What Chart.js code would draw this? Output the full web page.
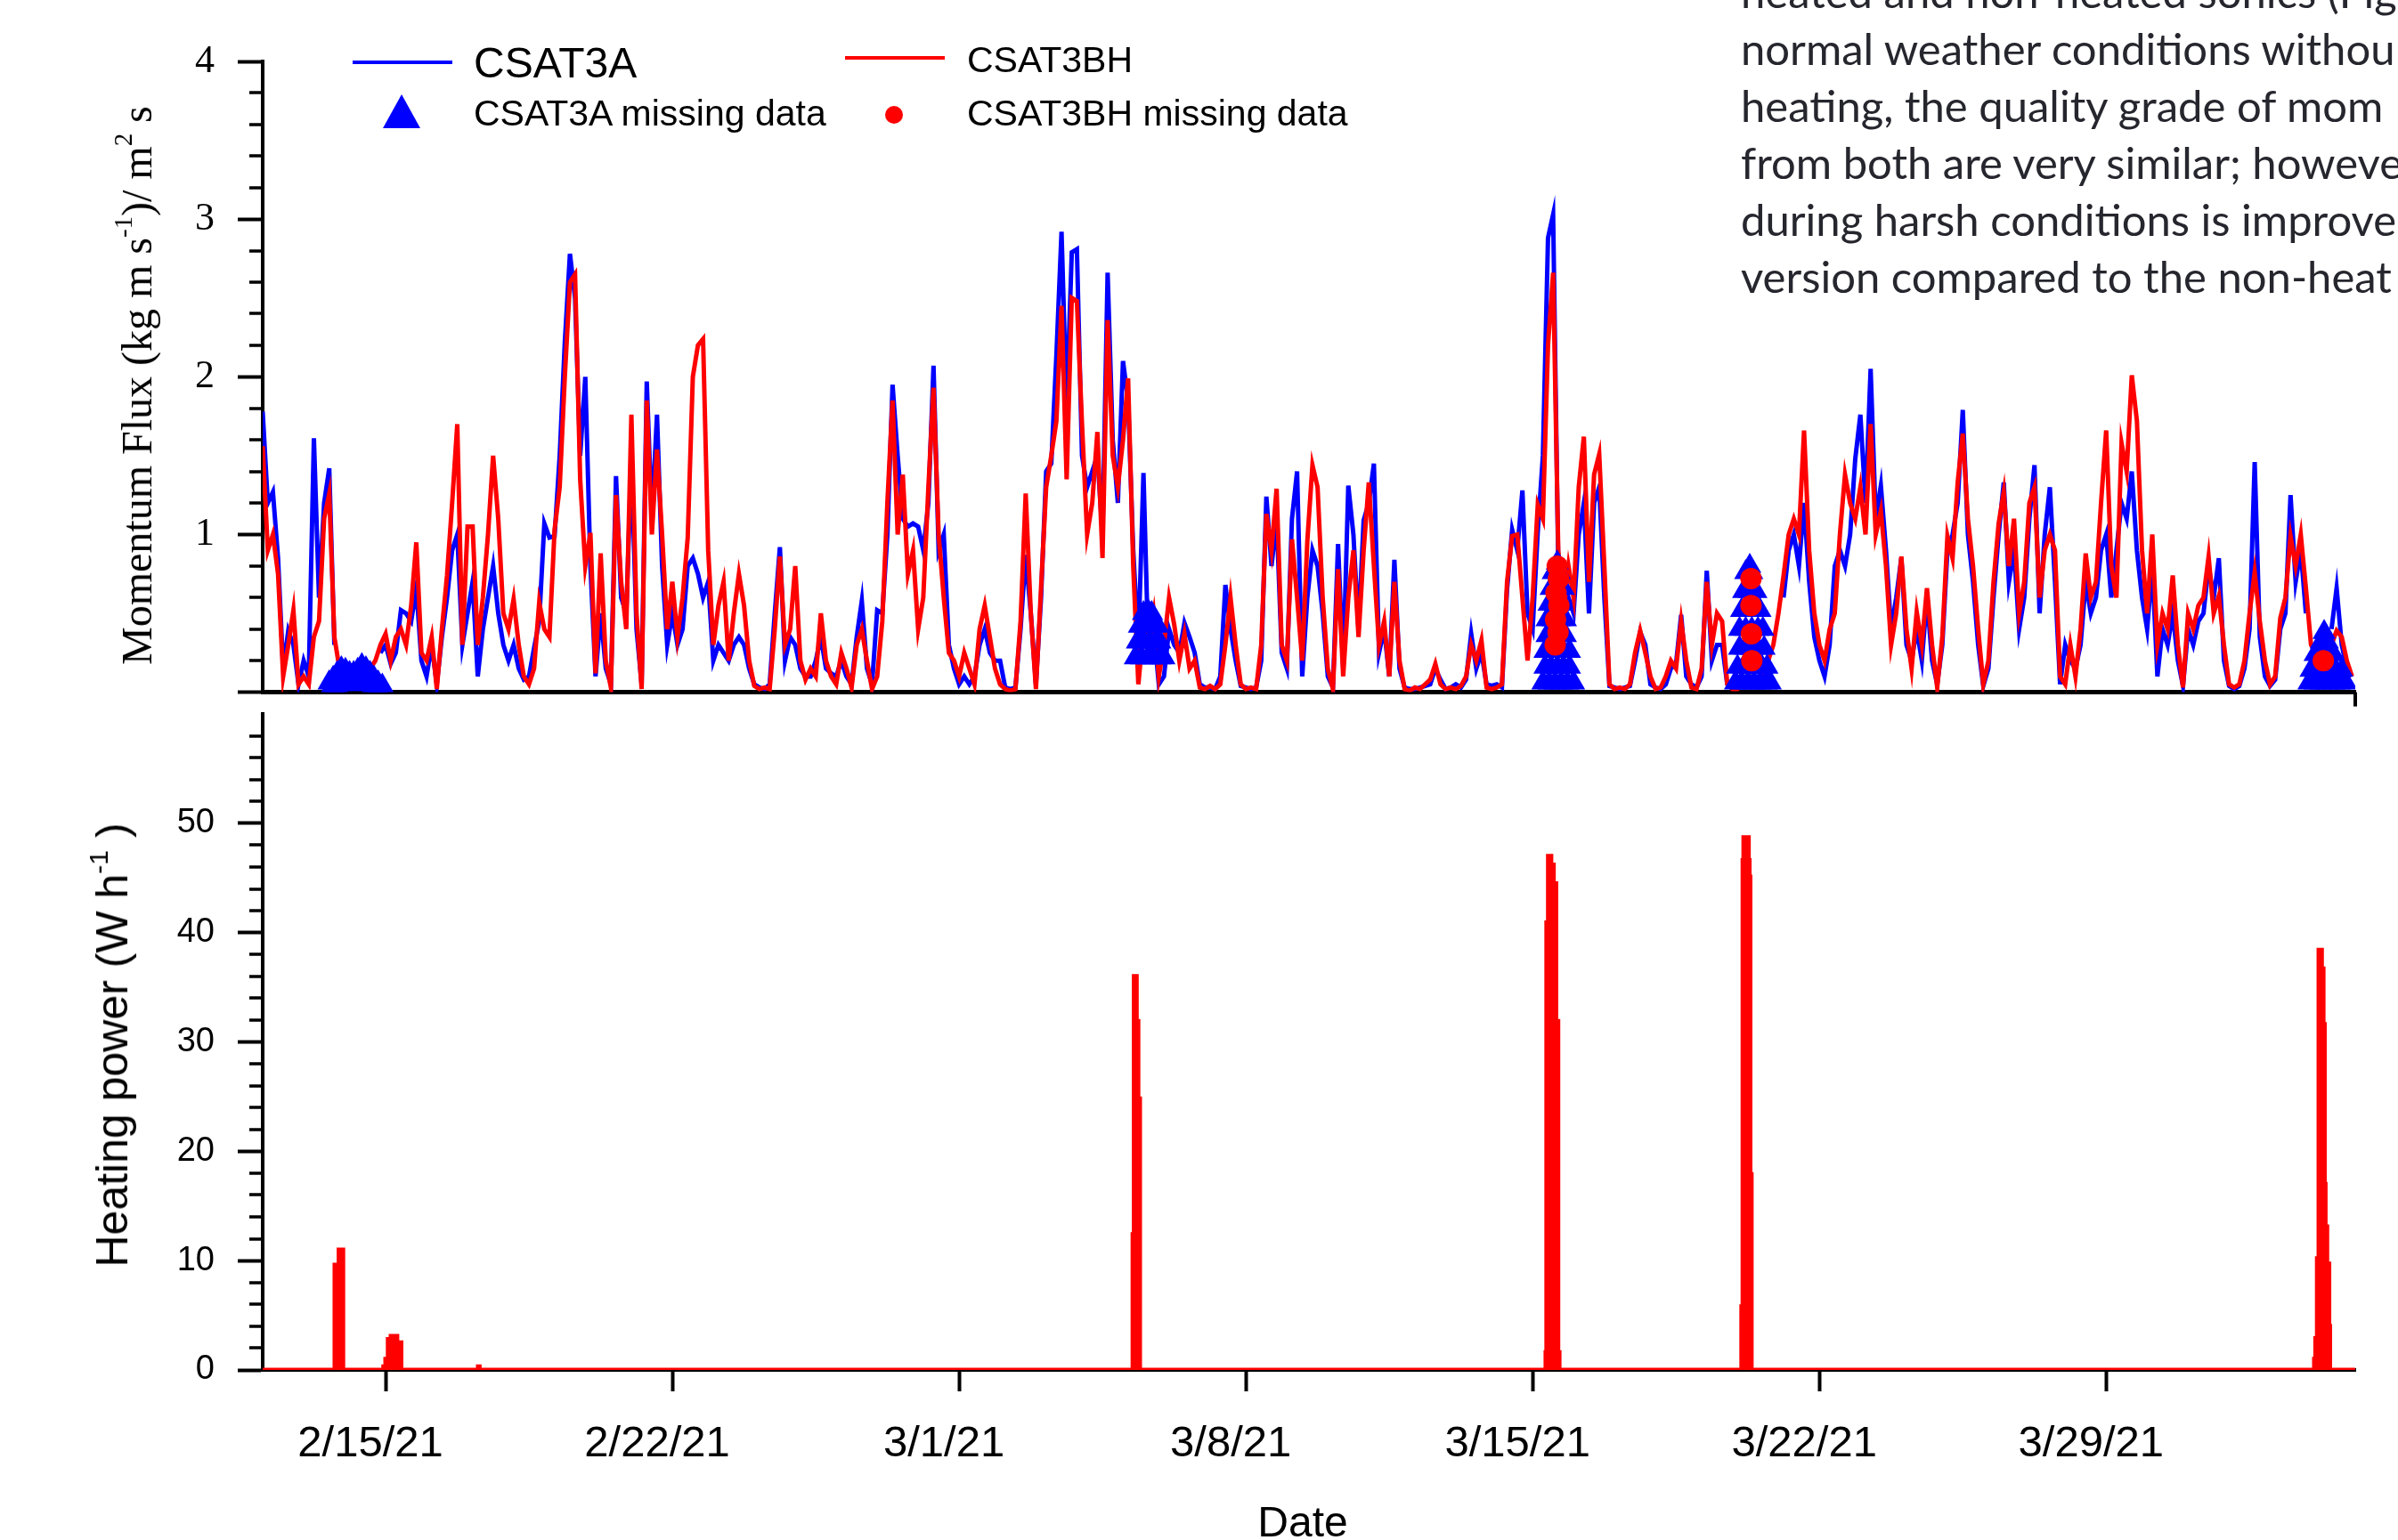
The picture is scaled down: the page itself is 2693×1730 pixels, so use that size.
<!DOCTYPE html>
<html>
<head>
<meta charset="utf-8">
<title>Momentum flux and heating power</title>
<script src="https://cdn.jsdelivr.net/npm/chart.js"></script>
<style>
  html, body { margin: 0; padding: 0; background: #fff; }
  body { width: 2693px; height: 1730px; position: relative; overflow: hidden; }
  canvas { position: absolute; left: 0; }
  #fluxChart { top: 0; }
  #heatChart { top: 740px; }
  .txt { position: absolute; white-space: nowrap; line-height: 1; color: #000; }
  .sans { font-family: 'Liberation Sans', Arial, sans-serif; }
  .serif { font-family: 'Liberation Serif', 'Times New Roman', serif; }
  .rot { transform: translate(-50%, -50%) rotate(-90deg); }
  .sup { font-size: 0.6em; position: relative; top: -0.75em; }
  .mark { position: absolute; }
  #paper { position: absolute; left: 1955px; top: -42px; font-family: Lato, 'Open Sans', sans-serif;
           font-size: 49px; line-height: 64px; color: #26262e; white-space: nowrap; }
</style>
</head>
<body>
    <!-- top panel: momentum flux -->
    <canvas id="fluxChart" width="2693" height="830"></canvas>
    <!-- bottom panel: heating power -->
    <canvas id="heatChart" width="2693" height="990"></canvas>

    <!-- axis titles -->
    <div class="txt serif rot" style="left:154px; top:433px; font-size:48px;">Momentum Flux (kg m s<span class="sup">-1</span>)/ m<span class="sup">2</span> s</div>
    <div class="txt sans rot" style="left:126px; top:1174px; font-size:50px;">Heating power (W h<span class="sup">-1</span> )</div>
    <div class="txt sans" style="left:1463px; top:1686px; font-size:48px; transform:translateX(-50%);">Date</div>

    <!-- legend -->
    <div class="mark" style="left:396px; top:68px; width:112px; height:4px; background:#0000ff;"></div>
    <div class="txt sans" style="left:532px; top:47px; font-size:48px;">CSAT3A</div>
    <div class="mark" style="left:949px; top:63px; width:112px; height:4px; background:#ff0000;"></div>
    <div class="txt sans" style="left:1086px; top:47px; font-size:41px;">CSAT3BH</div>
    <div class="mark" style="left:430px; top:106px; width:0; height:0; border-left:21px solid transparent; border-right:21px solid transparent; border-bottom:38px solid #0000ff;"></div>
    <div class="txt sans" style="left:532px; top:107px; font-size:41px;">CSAT3A missing data</div>
    <div class="mark" style="left:994px; top:119px; width:20px; height:20px; border-radius:50%; background:#ff0000;"></div>
    <div class="txt sans" style="left:1086px; top:107px; font-size:41px;">CSAT3BH missing data</div>

    <!-- paper text next to the figure -->
    <div id="paper">
        heated and non-heated sonics (Fig<br>
        normal weather conditions withou<br>
        heating, the quality grade of mom<br>
        from both are very similar; howeve<br>
        during harsh conditions is improve<br>
        version compared to the non-heat
    </div>

    <script>
        // time axis in days from 2/12/21 00:00
        const axisStartDay = 0;
        const axisEndDay = 51.08;
        const dateTickDay = [3, 10, 17, 24, 31, 38, 45];
        const dateTickLabel = ['2/15/21', '2/22/21', '3/1/21', '3/8/21', '3/15/21', '3/22/21', '3/29/21'];

        // flux series, one value every 3 hours from axisStartDay
        const fluxStepDays = 0.125;
        const csat3bhFlux = [
            1.56,0.9,1.0,0.75,0.1,0.3,0.52,0.05,0.1,0.05,
            0.35,0.45,1.1,1.26,0.35,0.15,0.1,0.1,0.12,0.08,
            0.1,0.15,0.2,0.3,0.37,0.2,0.35,0.4,0.3,0.55,
            0.95,0.25,0.2,0.35,0.02,0.4,0.74,1.2,1.7,0.3,
            1.05,1.05,0.3,0.6,1.0,1.5,1.1,0.5,0.4,0.59,
            0.3,0.1,0.05,0.15,0.57,0.4,0.35,1.03,1.3,2.0,
            2.6,2.65,1.35,0.8,1.01,0.12,0.88,0.2,0.03,1.25,
            0.7,0.4,1.76,0.5,0.02,1.85,1.0,1.54,1.0,0.4,
            0.7,0.35,0.6,0.98,2.0,2.2,2.24,0.9,0.3,0.55,
            0.7,0.2,0.5,0.75,0.55,0.2,0.04,0.02,0.03,0.02,
            0.4,0.86,0.3,0.4,0.8,0.2,0.08,0.15,0.1,0.5,
            0.2,0.1,0.05,0.25,0.15,0.03,0.3,0.4,0.2,0.02,
            0.1,0.45,1.21,1.85,1.0,1.38,0.75,0.9,0.4,0.6,
            1.3,1.93,1.0,0.6,0.25,0.2,0.1,0.25,0.15,0.05,
            0.4,0.55,0.35,0.15,0.05,0.02,0.01,0.02,0.45,1.26,
            0.5,0.02,0.66,1.3,1.5,1.72,2.45,1.35,2.5,2.48,
            1.7,1.0,1.2,1.65,0.85,2.36,1.5,1.3,1.6,1.99,
            0.8,0.05,0.4,0.3,0.5,0.1,0.3,0.6,0.43,0.2,
            0.37,0.15,0.2,0.03,0.02,0.04,0.02,0.05,0.3,0.6,
            0.3,0.05,0.02,0.03,0.02,0.3,1.13,0.9,1.29,0.3,
            0.2,0.97,0.6,0.2,0.96,1.44,1.3,0.6,0.15,0.02,
            0.78,0.1,0.6,0.9,0.35,0.9,1.33,0.8,0.3,0.45,
            0.1,0.7,0.2,0.02,0.01,0.03,0.02,0.05,0.08,0.18,
            0.05,0.02,0.03,0.02,0.04,0.1,0.3,0.2,0.33,0.03,
            0.02,0.03,0.05,0.7,0.99,1.0,0.6,0.2,0.6,1.19,
            1.1,2.2,2.66,0.9,0.5,0.8,0.6,1.3,1.62,0.7,
            1.38,1.51,0.8,0.05,0.02,0.03,0.02,0.05,0.25,0.39,
            0.25,0.1,0.02,0.03,0.1,0.2,0.15,0.45,0.2,0.03,
            0.02,0.15,0.7,0.3,0.5,0.45,0.05,0.02,0.02,0.05,
            0.1,0.1,0.05,0.1,0.2,0.3,0.5,0.74,1.0,1.1,
            1.0,1.66,0.9,0.5,0.3,0.2,0.4,0.5,1.0,1.38,
            1.2,1.1,1.3,1.0,1.7,1.0,1.15,0.8,0.3,0.5,
            0.86,0.4,0.15,0.51,0.3,0.66,0.3,0.03,0.35,0.99,
            0.85,1.33,1.64,1.1,0.8,0.4,0.05,0.2,0.7,1.07,
            1.27,0.8,1.1,0.5,0.7,1.2,1.3,0.6,0.9,1.0,
            0.9,0.1,0.05,0.3,0.1,0.4,0.88,0.6,0.7,1.2,
            1.66,0.8,0.6,1.58,1.4,2.01,1.72,0.9,0.5,1.0,
            0.3,0.5,0.4,0.74,0.3,0.03,0.5,0.4,0.55,0.6,
            0.86,0.5,0.61,0.3,0.05,0.03,0.05,0.2,0.5,0.76,
            0.45,0.2,0.05,0.1,0.47,0.6,0.99,0.8,1.0,0.66,
            0.3,0.25,0.2,0.25,0.3,0.39,0.35,0.2,0.1
        ];
        const csat3aFlux = [
            1.78,1.2,1.27,0.85,0.15,0.39,0.3,0.05,0.2,0.1,
            1.61,0.6,1.2,1.42,0.3,null,null,null,null,null,
            null,null,null,0.25,0.3,0.18,0.25,0.52,0.5,0.45,
            0.66,0.2,0.1,0.3,0.05,0.35,0.6,0.9,1.0,0.3,
            0.5,0.7,0.1,0.4,0.6,0.8,0.5,0.3,0.2,0.3,
            0.15,0.08,0.1,0.28,0.45,1.07,0.98,0.99,1.5,2.22,
            2.78,2.5,1.5,2.0,0.8,0.1,0.5,0.15,0.05,1.37,
            0.6,0.5,1.48,0.4,0.05,1.97,1.1,1.76,0.8,0.3,
            0.5,0.3,0.4,0.8,0.85,0.75,0.6,0.7,0.2,0.3,
            0.25,0.2,0.3,0.35,0.3,0.15,0.05,0.03,0.02,0.05,
            0.5,0.92,0.2,0.35,0.3,0.15,0.1,0.1,0.2,0.35,
            0.15,0.12,0.1,0.2,0.1,0.05,0.35,0.58,0.15,0.05,
            0.52,0.5,1.0,1.95,1.5,1.1,1.05,1.07,1.05,0.9,
            1.2,2.07,0.9,1.0,0.3,0.15,0.05,0.1,0.05,0.1,
            0.3,0.4,0.25,0.2,0.2,0.03,0.02,0.03,0.4,0.87,
            0.5,0.05,0.6,1.4,1.45,2.14,2.92,1.8,2.79,2.81,
            1.5,1.3,1.4,1.5,1.0,2.66,1.6,1.2,2.1,1.85,
            0.9,0.3,1.39,0.2,0.4,0.05,0.1,0.4,0.3,0.25,
            0.44,0.35,0.25,0.05,0.03,0.03,0.02,0.1,0.68,0.4,
            0.2,0.04,0.03,0.02,0.03,0.2,1.24,0.8,1.1,0.25,
            0.15,1.1,1.4,0.1,0.6,0.9,0.8,0.5,0.1,0.03,
            0.94,0.15,1.31,1.0,0.4,1.09,1.2,1.45,0.25,0.4,
            0.1,0.84,0.15,0.03,0.02,0.02,0.03,0.04,0.05,0.15,
            0.08,0.02,0.03,0.05,0.03,0.08,0.37,0.15,0.25,0.05,
            0.04,0.05,0.03,0.65,1.03,0.9,1.28,0.5,0.4,1.02,
            1.5,2.88,3.03,0.8,0.4,0.6,0.5,1.0,1.2,0.5,
            1.2,1.3,0.6,0.04,0.03,0.02,0.03,0.04,0.2,0.38,
            0.3,0.05,0.03,0.02,0.05,0.15,0.18,0.49,0.1,0.05,
            0.03,0.1,0.77,0.2,0.3,0.3,0.05,null,null,null,
            null,null,null,null,null,null,null,0.6,0.9,1.0,
            0.8,1.2,0.7,0.35,0.2,0.1,0.3,0.8,0.9,0.8,
            1.0,1.48,1.76,1.2,2.05,1.1,1.31,0.9,0.4,0.6,
            0.85,0.3,0.2,0.4,0.2,0.6,0.2,0.05,0.3,0.9,
            1.0,1.2,1.79,1.0,0.7,0.3,0.04,0.15,0.6,1.0,
            1.33,0.7,0.9,0.4,0.6,1.1,1.44,0.5,1.0,1.3,
            0.7,0.05,0.3,0.2,0.15,0.3,0.7,0.5,0.6,0.9,
            1.0,0.6,0.9,1.2,1.1,1.4,0.9,0.6,0.4,0.8,
            0.1,0.4,0.3,0.5,0.2,0.04,0.4,0.3,0.45,0.5,
            0.8,0.6,0.85,0.2,0.04,0.02,0.04,0.15,0.4,1.46,
            0.35,0.1,0.04,0.08,0.4,0.5,1.25,0.7,0.9,0.5,
            null,null,null,null,0.4,0.66,0.3,0.15,0.1
        ];

        // missing-data markers (day, flux)
        const missTriDay = [
            // 2/13 - 2/15
            1.62,1.72,1.82,1.92,2.02,2.12,2.22,2.32,2.42,2.52,2.62,2.72,2.82,2.92,
            1.7,1.8,1.9,2.0,2.1,2.2,2.3,2.4,2.5,2.6,2.7,2.8,
            // 3/5 - 3/6
            21.3,21.45,21.6,21.75,21.9,22.0,21.35,21.5,21.65,21.8,21.9,21.4,21.55,21.7,21.85,21.5,21.6,21.7,
            // 3/15
            31.25,31.4,31.55,31.7,31.85,32.0,31.3,31.45,31.6,31.75,31.9,31.3,31.45,31.6,31.75,31.9,
            31.35,31.5,31.65,31.8,31.35,31.5,31.65,31.8,31.4,31.55,31.7,31.45,31.6,31.75,31.5,31.65,31.6,
            // 3/19 - 3/20
            35.95,36.1,36.25,36.4,36.55,36.7,36.8,36.0,36.15,36.3,36.45,36.6,36.72,36.05,36.2,36.35,36.5,36.65,
            36.05,36.2,36.35,36.5,36.62,36.1,36.25,36.4,36.55,36.15,36.3,36.45,36.2,36.35,36.3,
            // 4/2 - 4/3
            49.95,50.1,50.25,50.4,50.55,50.7,50.85,50.0,50.15,50.3,50.45,50.6,50.75,50.1,50.25,50.4,50.55,50.25,50.4,50.32
        ];
        const missTriValue = [
            0.06,0.09,0.12,0.15,0.14,0.12,0.12,0.14,0.17,0.15,0.12,0.09,0.06,0.04,
            0.04,0.04,0.05,0.06,0.05,0.05,0.06,0.07,0.06,0.05,0.04,0.03,
            0.22,0.22,0.22,0.22,0.22,0.22,0.32,0.32,0.32,0.32,0.32,0.42,0.42,0.42,0.42,0.5,0.52,0.5,
            0.06,0.06,0.06,0.06,0.06,0.06,0.16,0.16,0.16,0.16,0.16,0.26,0.26,0.26,0.26,0.26,
            0.36,0.36,0.36,0.36,0.46,0.46,0.46,0.46,0.56,0.56,0.56,0.66,0.66,0.66,0.76,0.76,0.82,
            0.06,0.06,0.06,0.06,0.06,0.06,0.06,0.16,0.16,0.16,0.16,0.16,0.16,0.28,0.28,0.28,0.28,0.28,
            0.4,0.4,0.4,0.4,0.4,0.52,0.52,0.52,0.52,0.64,0.64,0.64,0.76,0.76,0.8,
            0.06,0.06,0.06,0.06,0.06,0.06,0.06,0.14,0.14,0.14,0.14,0.14,0.14,0.24,0.24,0.24,0.24,0.32,0.32,0.38
        ];
        const missDotDay = [31.55, 31.62, 31.56, 31.64, 31.57, 31.63, 31.6, 36.33, 36.33, 36.34, 36.35, 50.3];
        const missDotValue = [0.3, 0.38, 0.46, 0.55, 0.63, 0.72, 0.8, 0.72, 0.55, 0.37, 0.2, 0.2];

        // heating power of CSAT3BH, stepped (day, W h-1)
        const heatDay = [0, 1.76, 1.86, 1.96, 2.95, 3.0, 3.06, 3.13, 3.28, 3.38, 5.26, 5.29,
            21.24, 21.27, 21.33, 21.37, 21.41,
            31.32, 31.34, 31.38, 31.45, 31.51, 31.57, 31.62, 31.65,
            36.10, 36.13, 36.15, 36.27, 36.29, 36.31, 36.34,
            50.08, 50.11, 50.15, 50.19, 50.26, 50.30, 50.33, 50.35, 50.39, 50.41, 50.44, 50.46, 51.08];
        const heatPower = [0, 9.6, 11.0, 0, 0.3, 1.0, 2.8, 3.1, 2.5, 0, 0.3, 0,
            12.4, 36.0, 31.9, 24.8, 0,
            1.6, 40.9, 47.0, 46.2, 44.5, 31.9, 1.6, 0,
            5.8, 46.6, 48.7, 46.6, 45.1, 17.9, 0,
            1.0, 2.9, 10.2, 38.4, 36.7, 31.6, 17.0, 13.1, 4.0, 9.7, 4.0, 0, 0];

        function pairs(xs, ys) {
            return xs.map((x, i) => ({ x: x, y: ys[i] }));
        }
        function fluxPoints(values) {
            return values.map((v, i) => ({ x: axisStartDay + i * fluxStepDays, y: v }));
        }
        function dateTicks(scale) {
            scale.ticks = dateTickDay.map(v => ({ value: v }));
        }

        // minor ticks on the left axis and the small stub at the right end
        const minorTicks = {
            id: 'minorTicks',
            afterDraw(chart, args, opts) {
                const s = chart.scales.y;
                const ctx = chart.ctx;
                ctx.save();
                ctx.strokeStyle = '#000';
                ctx.lineWidth = opts.width;
                const n = Math.round((s.max - s.min) / opts.step);
                for (let k = 0; k <= n; k++) {
                    if (k % opts.every === 0) continue;
                    const y = Math.round(s.getPixelForValue(s.min + k * opts.step));
                    ctx.beginPath();
                    ctx.moveTo(s.right - opts.length, y);
                    ctx.lineTo(s.right, y);
                    ctx.stroke();
                }
                if (opts.endStub) {
                    const a = chart.chartArea;
                    ctx.lineWidth = 4;
                    ctx.beginPath();
                    ctx.moveTo(a.right, a.bottom);
                    ctx.lineTo(a.right, a.bottom + opts.endStub);
                    ctx.stroke();
                }
                ctx.restore();
            }
        };

        const axisBorder = { display: true, color: '#000', width: 4 };

        new Chart(document.getElementById('fluxChart'), {
            type: 'line',
            data: {
                datasets: [
                    { label: 'CSAT3BH missing data', data: pairs(missDotDay, missDotValue), showLine: false,
                      pointStyle: 'circle', pointRadius: 12, pointBackgroundColor: '#ff0000', pointBorderWidth: 0, order: 0 },
                    { label: 'CSAT3A missing data', data: pairs(missTriDay, missTriValue), showLine: false,
                      pointStyle: 'triangle', pointRadius: 15, pointBackgroundColor: '#0000ff', pointBorderWidth: 0, order: 1 },
                    { label: 'CSAT3BH', data: fluxPoints(csat3bhFlux), borderColor: '#ff0000', borderWidth: 5,
                      pointRadius: 0, tension: 0, order: 2 },
                    { label: 'CSAT3A', data: fluxPoints(csat3aFlux), borderColor: '#0000ff', borderWidth: 5,
                      pointRadius: 0, tension: 0, spanGaps: false, order: 3 }
                ]
            },
            options: {
                responsive: false,
                animation: false,
                devicePixelRatio: 1,
                layout: { padding: { left: 0, right: 48, top: 69, bottom: 0 } },
                plugins: {
                    legend: { display: false },
                    tooltip: { enabled: false },
                    minorTicks: { step: 0.2, every: 5, length: 15, width: 3.5, endStub: 16 }
                },
                scales: {
                    x: {
                        type: 'linear', min: axisStartDay, max: axisEndDay,
                        afterBuildTicks: dateTicks,
                        ticks: { display: false },
                        grid: { display: true, drawOnChartArea: false, drawTicks: false },
                        border: { display: true, color: '#000', width: 5 },
                        afterFit: s => { s.height = 28; }
                    },
                    y: {
                        min: 0, max: 4,
                        ticks: { stepSize: 1, callback: v => v === 0 ? '' : String(v), color: '#000', padding: 26,
                                 font: { family: 'Liberation Serif', size: 44 } },
                        grid: { drawOnChartArea: false, drawTicks: true, tickLength: 28, tickWidth: 4, tickColor: '#000' },
                        border: axisBorder,
                        afterFit: s => { s.width = 295; }
                    }
                }
            },
            plugins: [minorTicks]
        });

        new Chart(document.getElementById('heatChart'), {
            type: 'line',
            data: {
                datasets: [
                    { label: 'Heating power', data: pairs(heatDay, heatPower), stepped: true, fill: 'origin',
                      borderColor: '#ff0000', backgroundColor: '#ff0000', borderWidth: 5, pointRadius: 0 }
                ]
            },
            options: {
                responsive: false,
                animation: false,
                devicePixelRatio: 1,
                layout: { padding: { left: 0, right: 48, top: 62, bottom: 0 } },
                plugins: {
                    legend: { display: false },
                    tooltip: { enabled: false },
                    minorTicks: { step: 2, every: 5, length: 15, width: 3.5 }
                },
                scales: {
                    x: {
                        type: 'linear', min: axisStartDay, max: axisEndDay,
                        afterBuildTicks: dateTicks,
                        ticks: { callback: (v, i) => dateTickLabel[i], color: '#000', padding: 30, labelOffset: -17,
                                 maxRotation: 0, autoSkip: false, font: { family: 'Liberation Sans', size: 49 } },
                        grid: { drawOnChartArea: false, drawTicks: true, tickLength: 24, tickWidth: 4, tickColor: '#000' },
                        border: axisBorder,
                        afterFit: s => { s.height = 191; }
                    },
                    y: {
                        min: 0, max: 60,
                        ticks: { stepSize: 10, callback: v => v === 60 ? null : String(v), color: '#000', padding: 26,
                                 font: { family: 'Liberation Sans', size: 38 } },
                        grid: { drawOnChartArea: false, drawTicks: true, tickLength: 28, tickWidth: 4, tickColor: '#000' },
                        border: axisBorder,
                        afterFit: s => { s.width = 295; }
                    }
                }
            },
            plugins: [minorTicks]
        });
    </script>
</body>
</html>
